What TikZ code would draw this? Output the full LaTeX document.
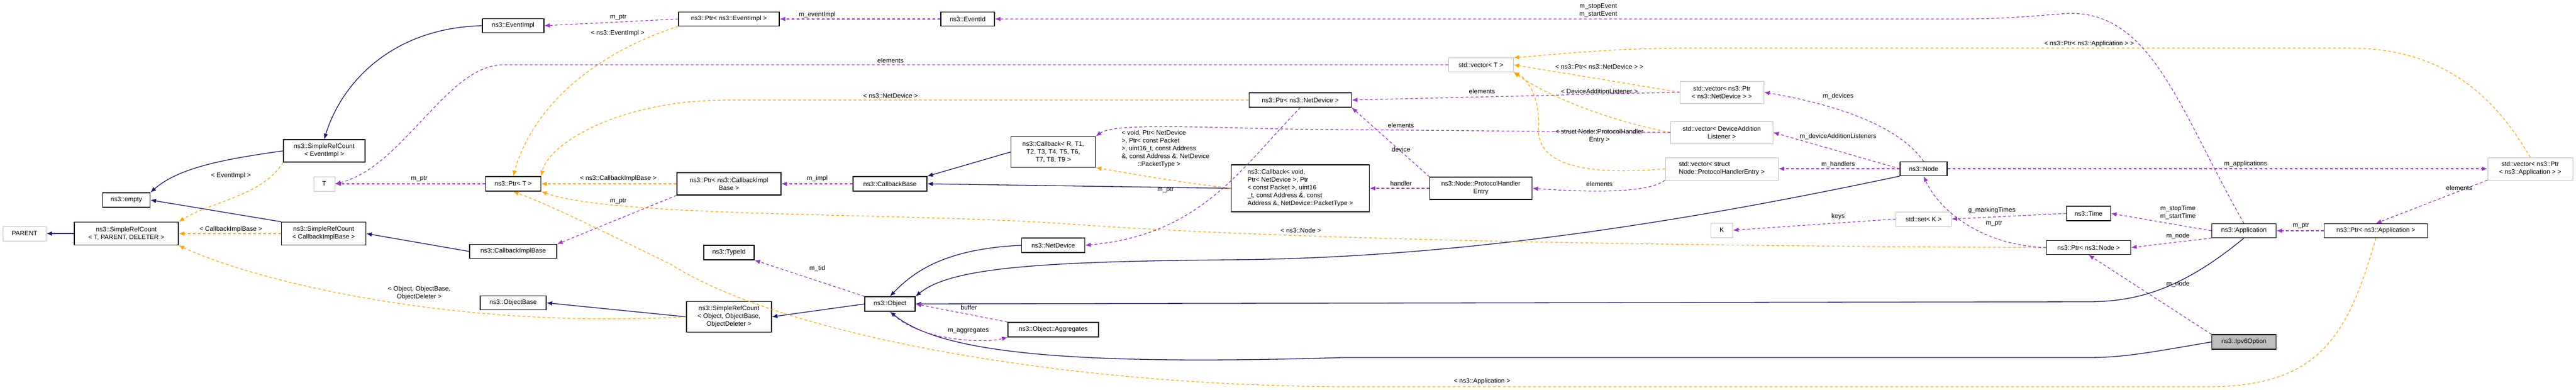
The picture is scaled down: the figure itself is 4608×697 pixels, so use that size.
\documentclass[tikz,border=0pt]{standalone}
\usepackage{fontspec}
\setmainfont{Liberation Sans}
\usetikzlibrary{arrows.meta}
\definecolor{inhblue}{HTML}{191970}
\definecolor{usepurple}{HTML}{9A32CD}
\definecolor{tplorange}{HTML}{FFA500}
\definecolor{undocgray}{HTML}{BFBFBF}
\tikzset{
    cls/.style = {draw=black, line width=1.3pt, align=center, inner sep=1pt,
                  font=\fontsize{11.5}{14}\selectfont},
    undoc/.style = {cls, draw=undocgray, line width=1pt},
    inherit/.style = {draw=inhblue, line width=1.3pt, -{Latex[length=10pt,width=8pt]}},
    uses/.style = {draw=usepurple, line width=1.2pt, dash pattern=on 5pt off 4pt,
                   -{Latex[length=10pt,width=8pt]}},
    tmpl/.style = {draw=tplorange, line width=1.2pt, dash pattern=on 5pt off 4pt,
                   -{Latex[length=10pt,width=8pt]}},
    lbl/.style = {align=center, inner sep=0pt, font=\fontsize{11.5}{14}\selectfont},
}
\begin{document}
\begin{tikzpicture}[x=1pt, y=-1pt]

    % Determines the boundries
    \path[use as bounding box, fill=white] (0,0) rectangle (4608,697);

    % classes, left part
    \node[cls, minimum width=110pt, minimum height=25pt] (EI)   at (918,46)  {ns3::EventImpl};
    \node[cls, minimum width=146pt, minimum height=40pt] (SRCE) at (580,270) {ns3::SimpleRefCount\\< EventImpl >};
    \node[cls, minimum width=85pt,  minimum height=26pt] (EMP)  at (226,358) {ns3::empty};
    \node[undoc, minimum width=77pt, minimum height=26pt] (PAR) at (44,418)  {PARENT};
    \node[cls, minimum width=186pt, minimum height=41pt] (SRCG) at (226,418) {ns3::SimpleRefCount\\< T, PARENT, DELETER >};
    \node[cls, minimum width=151pt, minimum height=41pt] (SRCC) at (579,418) {ns3::SimpleRefCount\\< CallbackImplBase >};
    \node[undoc, minimum width=38pt, minimum height=26pt] (T)   at (580,329) {T};
    \node[cls, minimum width=99pt,  minimum height=26pt] (PT)   at (918,329) {ns3::Ptr< T >};
    \node[cls, minimum width=156pt, minimum height=25pt] (CIB)  at (918,450) {ns3::CallbackImplBase};
    \node[cls, minimum width=118pt, minimum height=25pt] (OB)   at (918,542) {ns3::ObjectBase};

    % classes, middle part
    \node[cls, minimum width=180pt, minimum height=25pt] (PEI)  at (1304,34)  {ns3::Ptr< ns3::EventImpl >};
    \node[cls, minimum width=96pt,  minimum height=25pt] (EID)  at (1731,34)  {ns3::EventId};
    \node[cls, minimum width=183pt, minimum height=26pt] (PND)  at (2326,179) {ns3::Ptr< ns3::NetDevice >};
    \node[cls, minimum width=151pt, minimum height=55pt] (CR)   at (1884,272) {ns3::Callback< R, T1,\\T2, T3, T4, T5, T6,\\T7, T8, T9 >};
    \node[cls, minimum width=247pt, minimum height=84pt, align=left] (CV) at (2326,337)
        {ns3::Callback< void,\\ Ptr< NetDevice >, Ptr\\< const Packet >, uint16\\\_t, const Address \&, const\\ Address \&, NetDevice::PacketType >};
    \node[cls, minimum width=186pt, minimum height=40pt] (PCIB) at (1304,329) {ns3::Ptr< ns3::CallbackImpl\\Base >};
    \node[cls, minimum width=132pt, minimum height=26pt] (CB)   at (1592,329) {ns3::CallbackBase};
    \node[cls, minimum width=113pt, minimum height=26pt] (ND)   at (1884,439) {ns3::NetDevice};
    \node[cls, minimum width=90pt,  minimum height=26pt] (TID)  at (1304,452) {ns3::TypeId};
    \node[cls, minimum width=90pt,  minimum height=26pt] (OBJ)  at (1592,544) {ns3::Object};
    \node[cls, minimum width=152pt, minimum height=55pt] (SRCO) at (1304,567) {ns3::SimpleRefCount\\< Object, ObjectBase,\\ObjectDeleter >};
    \node[cls, minimum width=162pt, minimum height=26pt] (AGG)  at (1884,590) {ns3::Object::Aggregates};

    % classes, right part
    \node[undoc, minimum width=116pt, minimum height=25pt] (VT)   at (2649,116) {std::vector< T >};
    \node[undoc, minimum width=150pt, minimum height=40pt] (VPND) at (3080,165) {std::vector< ns3::Ptr\\< ns3::NetDevice > >};
    \node[undoc, minimum width=183pt, minimum height=40pt] (VDAL) at (3080,237) {std::vector< DeviceAddition\\Listener >};
    \node[undoc, minimum width=202pt, minimum height=40pt, align=left] (VPHE) at (3080,302) {std::vector< struct\\ Node::ProtocolHandlerEntry >};
    \node[cls, minimum width=183pt, minimum height=40pt] (PHE)  at (2649,337) {ns3::Node::ProtocolHandler\\Entry};
    \node[cls, minimum width=84pt,  minimum height=25pt] (NODE) at (3441,302) {ns3::Node};
    \node[undoc, minimum width=39pt, minimum height=26pt] (K)   at (3080,412) {K};
    \node[undoc, minimum width=99pt, minimum height=26pt] (SETK) at (3441,392) {std::set< K >};
    \node[cls, minimum width=79pt,  minimum height=26pt] (TIME) at (3736,382) {ns3::Time};
    \node[cls, minimum width=151pt, minimum height=25pt] (PNODE) at (3736,443) {ns3::Ptr< ns3::Node >};
    \node[cls, minimum width=115pt, minimum height=25pt] (APP)  at (4014,413) {ns3::Application};
    \node[cls, minimum width=185pt, minimum height=25pt] (PAPP) at (4250,413) {ns3::Ptr< ns3::Application >};
    \node[undoc, minimum width=152pt, minimum height=40pt] (VPAPP) at (4526,302) {std::vector< ns3::Ptr\\< ns3::Application > >};
    \node[cls, fill=undocgray, minimum width=115pt, minimum height=26pt] (IPV6) at (4014,612) {ns3::Ipv6Option};

    % inheritance
    \draw[inherit] (EI.west) .. controls (700,50) and (610,150) .. (SRCE.north);
    \draw[inherit] (SRCE.west) .. controls (400,285) and (320,300) .. (EMP.north east);
    \draw[inherit] (SRCC.north west) -- (EMP.east);
    \draw[inherit] (SRCG.west) -- (PAR.east);
    \draw[inherit] (CIB.west) -- (SRCC.east);
    \draw[inherit] (SRCO.west) -- (OB.east);
    \draw[inherit] (OBJ.west) -- (SRCO.east);
    \draw[inherit] (CR.west) -- (CB.north east);
    \draw[inherit] (CV.west) -- (CB.east);
    \draw[inherit] (ND.west) .. controls (1700,445) and (1640,480) .. (OBJ.north);
    \draw[inherit] (NODE.south west) .. controls (3000,400) and (2600,462) .. (2200,465)
        .. controls (1850,468) and (1700,480) .. (OBJ.north east);
    \draw[inherit] (APP.south) .. controls (3900,520) and (3820,540) .. (3735,540) -- (OBJ.east);
    \draw[inherit] (IPV6.west) .. controls (3850,630) and (3800,640) .. (3735,640) -- (2400,640)
        .. controls (1900,655) and (1680,630) .. (OBJ.south);

    % template instances
    \draw[tmpl] (SRCE.south west) .. controls (470,350) and (380,360) .. (SRCG.north east);
    \draw[tmpl] (SRCC.west) -- (SRCG.east);
    \draw[tmpl] (SRCO.west) .. controls (800,590) and (450,500) .. (SRCG.south east);
    \draw[tmpl] (PEI.south west) .. controls (1050,100) and (950,200) .. (PT.north);
    \draw[tmpl] (PND.west) -- (1300,179) .. controls (1100,180) and (980,260) .. (PT.north east);
    \draw[tmpl] (PCIB.west) -- (PT.east);
    \draw[tmpl] (PNODE.west) .. controls (3000,440) and (2300,430) .. (1900,400)
        .. controls (1600,380) and (1100,390) .. (PT.south east);
    \draw[tmpl] (PAPP.south) .. controls (4200,600) and (4150,692) .. (3950,692) -- (2400,692)
        .. controls (1900,690) and (1400,600) .. (1200,473) .. controls (1050,400) and (990,370) .. (PT.south);
    \draw[tmpl] (CV.west) .. controls (2100,325) and (2020,310) .. (CR.south east);
    \draw[tmpl] (VPND.west) -- (VT.east);
    \draw[tmpl] (VDAL.west) .. controls (2850,210) and (2750,160) .. (VT.south east);
    \draw[tmpl] (VPHE.west) .. controls (2800,318) and (2750,280) .. (2752,230)
        .. controls (2755,170) and (2730,140) .. (VT.south east);
    \draw[tmpl] (VPAPP.north) .. controls (4450,150) and (4350,86) .. (4200,86) -- (3000,86)
        .. controls (2850,88) and (2760,100) .. (VT.north east);

    % usage relations
    \draw[uses] (PEI.west) -- (EI.east);
    \draw[uses] (EID.west) -- (PEI.east);
    \draw[uses] (APP.north) .. controls (3900,200) and (3850,20) .. (3700,24)
        .. controls (3650,27) and (3600,34) .. (3500,34) -- (EID.east);
    \draw[uses] (VT.west) -- (900,116) .. controls (800,116) and (720,300) .. (T.east);
    \draw[uses] (PT.west) -- (T.east);
    \draw[uses] (PCIB.south west) -- (CIB.north east);
    \draw[uses] (CB.west) -- (PCIB.east);
    \draw[uses] (VPND.west) -- (PND.east);
    \draw[uses] (VDAL.west) -- (2300,231) .. controls (2100,226) and (1990,222) .. (CR.north east);
    \draw[uses] (PHE.north west) -- (PND.south east);
    \draw[uses] (PND.south) .. controls (2220,300) and (2150,420) .. (ND.east);
    \draw[uses] (PHE.west) -- (CV.east);
    \draw[uses] (VPHE.south west) .. controls (2950,345) and (2850,345) .. (PHE.east);
    \draw[uses] (NODE.north) .. controls (3400,230) and (3300,190) .. (VPND.east);
    \draw[uses] (NODE.west) -- (VDAL.east);
    \draw[uses] (NODE.west) -- (VPHE.east);
    \draw[uses] (NODE.east) -- (VPAPP.west);
    \draw[uses] (SETK.west) -- (K.east);
    \draw[uses] (TIME.west) -- (SETK.east);
    \draw[uses] (PNODE.west) .. controls (3550,440) and (3470,380) .. (NODE.south);
    \draw[uses] (APP.west) -- (TIME.east);
    \draw[uses] (APP.south west) -- (PNODE.east);
    \draw[uses] (IPV6.north west) -- (PNODE.south);
    \draw[uses] (PAPP.west) -- (APP.east);
    \draw[uses] (VPAPP.south west) -- (PAPP.north);
    \draw[uses] (OBJ.north west) -- (TID.south east);
    \draw[uses] (OBJ.south) .. controls (1640,610) and (1760,615) .. (AGG.south west);
    \draw[uses] (AGG.north west) -- (OBJ.east);

    % edge labels
    \foreach \pos/\txt in {
        {(1106,31)}/m\_ptr, {(1105,60)}/< ns3::EventImpl >, {(1462,27)}/m\_eventImpl,
        {(2859,19)}/m\_stopEvent\\m\_startEvent, {(1593,108)}/elements,
        {(413,315)}/< EventImpl >, {(750,320)}/m\_ptr, {(1106,320)}/< ns3::CallbackImplBase >,
        {(1106,360)}/m\_ptr, {(413,411)}/< CallbackImplBase >,
        {(750,525)}/< Object{,} ObjectBase{,}\\ObjectDeleter >, {(1593,171)}/< ns3::NetDevice >,
        {(1462,320)}/m\_impl, {(2085,340)}/m\_ptr, {(2327,412)}/< ns3::Node >,
        {(1462,480)}/m\_tid, {(1733,550)}/buffer, {(1732,592)}/m\_aggregates,
        {(2861,119)}/< ns3::Ptr< ns3::NetDevice > >, {(2651,163)}/elements,
        {(2861,163)}/< DeviceAdditionListener >, {(2506,224)}/elements,
        {(2861,244)}/< struct Node::ProtocolHandler\\Entry >, {(2506,267)}/device,
        {(2506,328)}/handler, {(2861,329)}/elements, {(3288,172)}/m\_devices,
        {(3288,244)}/m\_deviceAdditionListeners, {(3288,294)}/m\_handlers, {(3288,388)}/keys,
        {(3563,377)}/g\_markingTimes, {(3567,400)}/m\_ptr,
        {(3737,79)}/< ns3::Ptr< ns3::Application > >, {(4017,294)}/m\_applications,
        {(4399,336)}/elements, {(3896,380)}/m\_stopTime\\m\_startTime, {(3896,422)}/m\_node,
        {(4116,404)}/m\_ptr, {(3896,508)}/m\_node, {(2651,683)}/< ns3::Application >}{
        \node[lbl] at \pos {\txt};
    }
    \node[lbl, align=left] (CVL) at (2085,267)
        {< void, Ptr< NetDevice\\>, Ptr< const Packet\\>, uint16\_t, const Address\\\&, const Address \&, NetDevice\\\hspace{2.5em}::PacketType >};
\end{tikzpicture}
\end{document}
